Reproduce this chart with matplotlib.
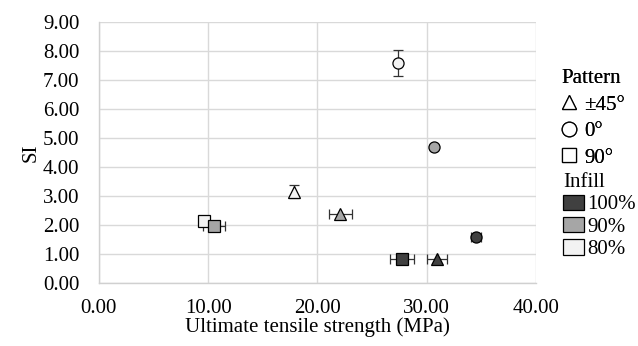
import matplotlib.pyplot as plt
from matplotlib.lines import Line2D
from matplotlib.patches import Patch

plt.rcParams["font.family"] = ["Liberation Serif", "DejaVu Serif"]

# data
patterns = ["±45°", "0°", "90°"]
pattern_markers = {"±45°": "^", "0°": "o", "90°": "s"}
infills = ["100%", "90%", "80%"]
infill_colors = {"100%": "#404040", "90%": "#a6a6a6", "80%": "#f2f2f2"}

point_pattern = ["0°", "0°", "0°", "±45°", "±45°", "±45°", "90°", "90°", "90°"]
point_infill = ["80%", "90%", "100%", "80%", "90%", "100%", "80%", "90%", "100%"]
uts = [27.4, 30.7, 34.55, 17.9, 22.1, 30.95, 9.6, 10.55, 27.75]
uts_err = [0.0, 0.0, 0.45, 0.0, 1.05, 0.95, 0.3, 1.0, 1.1]
si = [7.6, 4.71, 1.59, 3.16, 2.38, 0.83, 2.15, 1.99, 0.85]
si_err = [0.45, 0.0, 0.0, 0.22, 0.0, 0.0, 0.0, 0.0, 0.0]

fig = plt.figure(figsize=(6.38, 3.46), dpi=100)
ax = fig.add_axes([0.155, 0.181, 0.685, 0.7545])

for p, inf, x, xe, y, ye in zip(point_pattern, point_infill, uts, uts_err, si, si_err):
    m = pattern_markers[p]
    ms = 8.5 if m == "s" else 8
    ax.errorbar(
        x, y,
        xerr=xe if xe else None,
        yerr=ye if ye else None,
        fmt=m,
        markersize=ms,
        markerfacecolor=infill_colors[inf],
        markeredgecolor="black",
        markeredgewidth=0.9,
        ecolor="#333333",
        elinewidth=0.9,
        capsize=3.5,
        capthick=0.9,
        zorder=3,
    )

ax.set_xlim(0, 40)
ax.set_ylim(0, 9)
ax.set_xticks(range(0, 41, 10))
ax.set_yticks(range(0, 10))
ax.set_xticklabels([f"{v:.2f}" for v in range(0, 41, 10)])
ax.set_yticklabels([f"{v:.2f}" for v in range(0, 10)])
ax.tick_params(length=0, labelsize=15)
ax.tick_params(axis="y", pad=14)
ax.tick_params(axis="x", pad=11)
ax.grid(True, color="#d9d9d9", linewidth=1)
ax.set_axisbelow(True)
for s in ["top", "right"]:
    ax.spines[s].set_visible(False)
for s in ["left", "bottom"]:
    ax.spines[s].set_color("#d0d0d0")
    ax.spines[s].set_linewidth(1)

ax.set_xlabel("Ultimate tensile strength (MPa)", fontsize=15, labelpad=0)
ax.set_ylabel("SI", fontsize=15, labelpad=2)

pattern_handles = [
    Line2D([], [], marker=pattern_markers[p], linestyle="none", markersize=10.5,
           markerfacecolor="white", markeredgecolor="black", markeredgewidth=0.9)
    for p in patterns
]
leg1 = fig.legend(
    pattern_handles, patterns, title="Pattern", loc="upper left",
    bbox_to_anchor=(0.863, 0.83), frameon=False, fontsize=15,
    title_fontsize=15, alignment="left", handlelength=0.8,
    handletextpad=0.3, labelspacing=0.33, borderpad=0.0,
)
fig.add_artist(leg1)

infill_handles = [
    Patch(facecolor=infill_colors[i], edgecolor="black", linewidth=0.9)
    for i in infills
]
fig.legend(
    infill_handles, infills, title="Infill", loc="upper left",
    bbox_to_anchor=(0.866, 0.53), frameon=False, fontsize=15,
    title_fontsize=15, alignment="left", handlelength=1.0,
    handleheight=0.75, handletextpad=0.15, labelspacing=0.12, borderpad=0.0,
)

fig.savefig("out.png", dpi=100)
